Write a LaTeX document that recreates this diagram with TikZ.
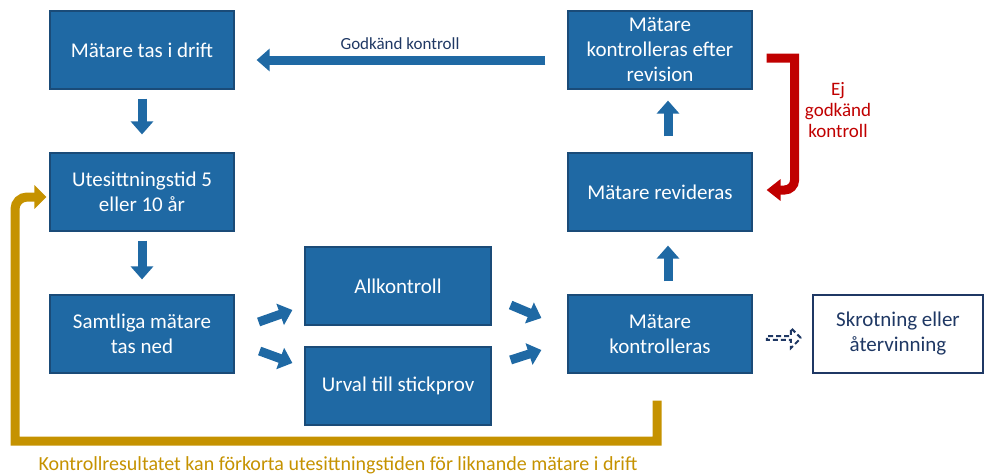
\documentclass[tikz,border=0pt]{standalone}
\usepackage{fontspec}
\setmainfont{Carlito}
\usetikzlibrary{arrows.meta,shapes.arrows}
\definecolor{flowBlue}{HTML}{1F69A4}
\definecolor{flowBorder}{HTML}{1A4B78}
\definecolor{flowNavy}{HTML}{1F3864}
\definecolor{flowRed}{HTML}{C00000}
\definecolor{flowGold}{HTML}{C59200}

\begin{document}
\begin{tikzpicture}[x=1pt, y=-1pt,
    box/.style={draw=flowBorder, line width=1.2pt, fill=flowBlue, text=white, minimum width=184pt, minimum height=78pt, inner sep=0pt, align=center, font=\fontsize{21}{25}\selectfont},
    blockarrow/.style={draw=flowBlue, line width=9pt, -{Triangle[width=22pt,length=13pt]}},
    redarrow/.style={draw=flowRed, line width=9pt, -{Triangle[width=21pt,length=14pt]}},
    goldarrow/.style={draw=flowGold, line width=9pt, -{Triangle[width=23pt,length=12pt]}}]
            \useasboundingbox (0,0) rectangle (987,475);
            % boxes
            \node[box] (drift) at (142,50) {Mätare tas i drift};
            \node[box] (wait) at (142,192) {Utesittningstid 5\\eller 10 år};
            \node[box] (removed) at (142,334) {Samtliga mätare\\tas ned};
            \node[box, minimum width=186pt] (full) at (398,286) {Allkontroll};
            \node[box, minimum width=186pt] (sample) at (398,386) {Urval till stickprov};
            \node[box] (checked) at (660,334) {Mätare\\kontrolleras};
            \node[box] (revised) at (660,192) {Mätare revideras};
            \node[box] (recheck) at (660,50) {Mätare\\kontrolleras efter\\revision};
            \node[box, fill=white, draw=flowNavy, line width=1.8pt, text=flowNavy, minimum width=170pt] (scrap) at (898,334) {Skrotning eller\\återvinning};
            % blue flow arrows
            \draw[blockarrow, shorten <=9pt, shorten >=18pt] (drift.south) -- (wait.north);
            \draw[blockarrow, shorten <=9pt, shorten >=15pt] (wait.south) -- (removed.north);
            \draw[blockarrow] ([shift={(24,-12)}]removed.east) -- ([shift={(-12,24)}]full.west);
            \draw[blockarrow] ([shift={(25,17)}]removed.east) -- ([shift={(-12,-23)}]sample.west);
            \draw[blockarrow] ([shift={(19,19)}]full.east) -- ([shift={(-26,-16)}]checked.west);
            \draw[blockarrow] ([shift={(19,-26)}]sample.east) -- ([shift={(-26,16)}]checked.west);
            \draw[blockarrow] ([shift={(8,-13)}]checked.north) -- ([shift={(8,14)}]revised.south);
            \draw[blockarrow] ([shift={(8,-16)}]revised.north) -- ([shift={(8,11)}]recheck.south);
            \draw[blockarrow] ([shift={(-22,10)}]recheck.west) -- ([shift={(22,10)}]drift.east);
            \node[text=flowNavy, font=\fontsize{17}{20}\selectfont] (okLabel) at (400,44) {Godkänd kontroll};
            % failed check
            \draw[redarrow] ([shift={(14,8)}]recheck.east) -- ++(28,0) [rounded corners=10pt] |- ([shift={(14,-2)}]revised.east);
            \node[text=flowRed, align=center, font=\fontsize{19}{21}\selectfont] (nokLabel) at (838,110) {Ej\\godkänd\\kontroll};
            % scrapping
            \node[single arrow, draw=flowNavy, dash pattern=on 5pt off 3pt, line width=2pt, minimum height=34pt, minimum width=20pt, single arrow head extend=4.5pt, inner sep=0pt] (scrapArrow) at (783,338) {};
            % feedback loop
            \coordinate (loopCorner) at (15,441);
            \draw[goldarrow] ([shift={(-3,27)}]checked.south) |- (loopCorner) [rounded corners=12pt] |- ([shift={(-3,5)}]wait.west);
            \node[text=flowGold, font=\fontsize{20}{22}\selectfont] (loopLabel) at (338,465) {Kontrollresultatet kan förkorta utesittningstiden för liknande mätare i drift};
        \end{tikzpicture}
\end{document}
